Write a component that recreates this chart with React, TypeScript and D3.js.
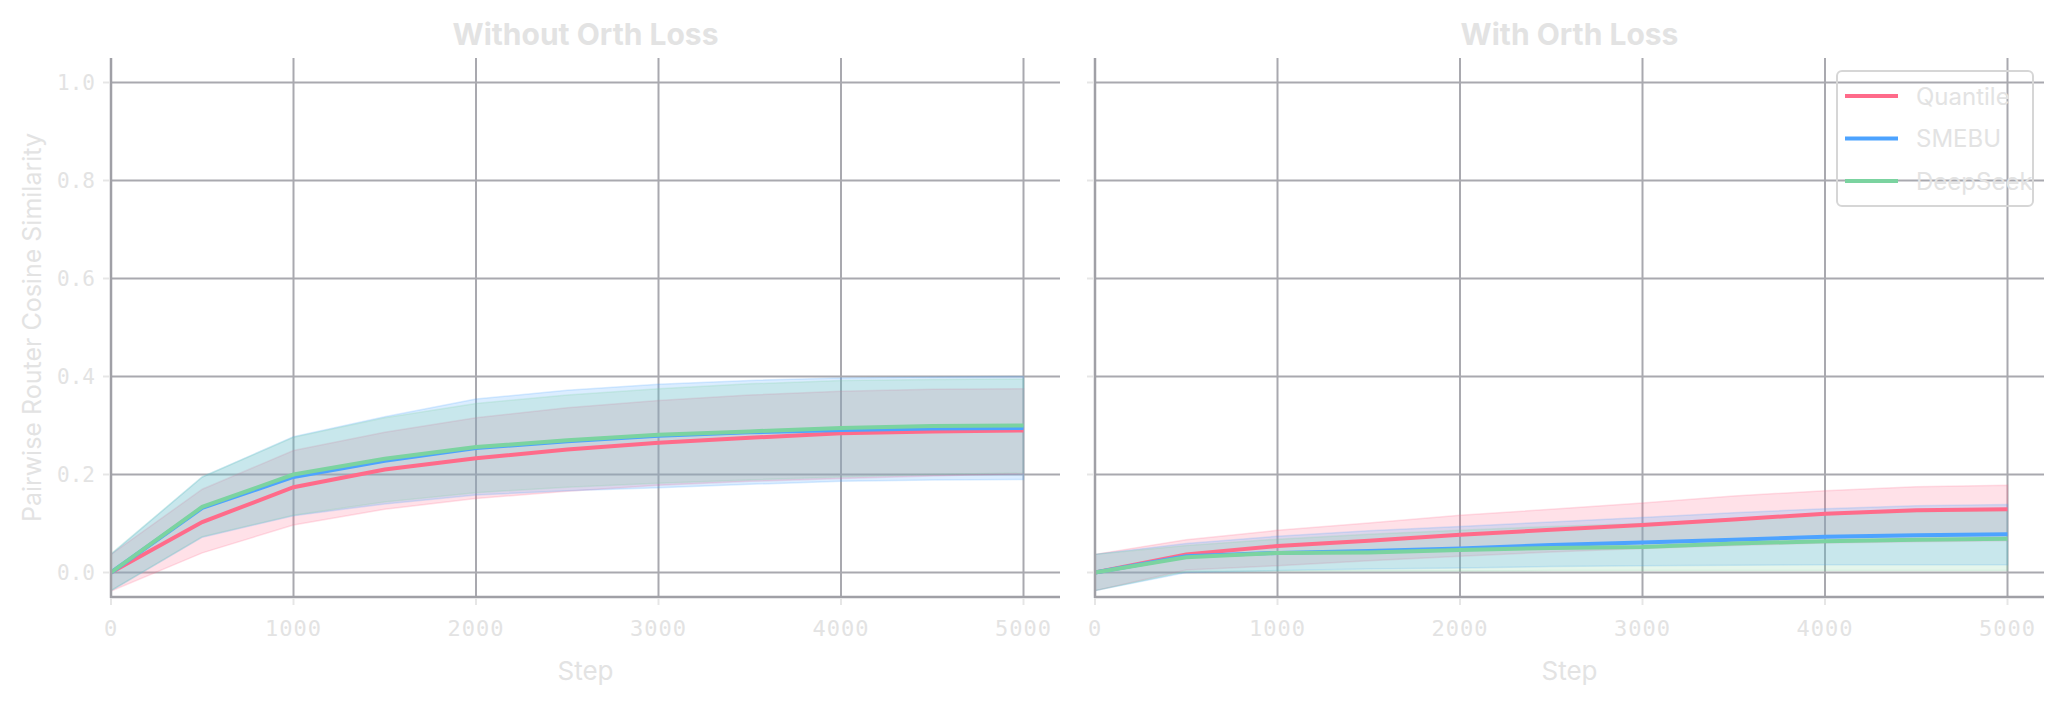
import React from 'react';
import * as d3 from 'd3';

// steps logged during training
const steps = [0, 500, 1000, 1500, 2000, 2500, 3000, 3500, 4000, 4500, 5000];

const seriesNames = ['Quantile', 'SMEBU', 'DeepSeek'];
const seriesColors = ['#ff6b8a', '#4da3ff', '#7bd3a0'];
const panelTitles = ['Without Orth Loss', 'With Orth Loss'];
const xTicks = [0, 1000, 2000, 3000, 4000, 5000];
const yTicks = [0, 0.2, 0.4, 0.6, 0.8, 1.0];

// Without Orth Loss
const quantileMeanA = [0, 0.103, 0.174, 0.21, 0.233, 0.251, 0.265, 0.275, 0.284, 0.288, 0.29];
const quantileUpA = [0.037, 0.17, 0.249, 0.286, 0.316, 0.336, 0.351, 0.362, 0.37, 0.374, 0.375];
const quantileLoA = [-0.038, 0.04, 0.097, 0.129, 0.151, 0.166, 0.178, 0.186, 0.192, 0.197, 0.202];
const smebuMeanA = [0, 0.132, 0.195, 0.228, 0.254, 0.268, 0.279, 0.286, 0.291, 0.294, 0.295];
const smebuUpA = [0.037, 0.195, 0.277, 0.318, 0.354, 0.372, 0.384, 0.392, 0.397, 0.399, 0.4];
const smebuLoA = [-0.037, 0.072, 0.116, 0.14, 0.158, 0.167, 0.173, 0.18, 0.186, 0.189, 0.19];
const deepseekMeanA = [0, 0.134, 0.2, 0.232, 0.256, 0.27, 0.281, 0.288, 0.295, 0.299, 0.3];
const deepseekUpA = [0.038, 0.195, 0.276, 0.316, 0.345, 0.362, 0.375, 0.385, 0.392, 0.394, 0.395];
const deepseekLoA = [-0.037, 0.073, 0.117, 0.144, 0.163, 0.174, 0.182, 0.189, 0.195, 0.2, 0.203];

// With Orth Loss
const quantileMeanB = [0, 0.037, 0.054, 0.065, 0.077, 0.087, 0.097, 0.108, 0.12, 0.127, 0.129];
const quantileUpB = [0.037, 0.067, 0.086, 0.101, 0.117, 0.129, 0.142, 0.156, 0.167, 0.175, 0.178];
const quantileLoB = [-0.037, 0.005, 0.014, 0.024, 0.033, 0.042, 0.049, 0.055, 0.06, 0.063, 0.065];
const smebuMeanB = [0, 0.033, 0.04, 0.044, 0.049, 0.056, 0.061, 0.067, 0.073, 0.076, 0.078];
const smebuUpB = [0.037, 0.059, 0.074, 0.085, 0.094, 0.103, 0.112, 0.122, 0.13, 0.136, 0.139];
const smebuLoB = [-0.037, 0, 0.004, 0.007, 0.009, 0.012, 0.014, 0.015, 0.016, 0.016, 0.016];
const deepseekMeanB = [0, 0.031, 0.04, 0.041, 0.046, 0.05, 0.052, 0.059, 0.064, 0.067, 0.069];
const deepseekUpB = [0.037, 0.055, 0.068, 0.078, 0.086, 0.094, 0.1, 0.11, 0.118, 0.124, 0.127];
const deepseekLoB = [-0.037, 0.002, 0.003, 0.003, 0.003, 0.004, 0.004, 0.004, 0.004, 0.004, 0.004];

const panels = [
  {
    title: panelTitles[0],
    mean: [quantileMeanA, smebuMeanA, deepseekMeanA],
    up: [quantileUpA, smebuUpA, deepseekUpA],
    lo: [quantileLoA, smebuLoA, deepseekLoA],
  },
  {
    title: panelTitles[1],
    mean: [quantileMeanB, smebuMeanB, deepseekMeanB],
    up: [quantileUpB, smebuUpB, deepseekUpB],
    lo: [quantileLoB, smebuLoB, deepseekLoB],
  },
];

const W = 2061;
const H = 704;
const panelLeft = [111, 1095];
const panelWidth = 949;
const top = 58;
const bottom = 597;

const gridColor = '#a9a9af';
const textColor = '#e3e3e3';
const sansFont = 'Inter, "Noto Sans", sans-serif';
const monoFont = '"DejaVu Sans Mono", monospace';

function Panel({ idx }: { idx: number }) {
  const p = panels[idx];
  const x0 = panelLeft[idx];
  const x = d3.scaleLinear().domain([0, 5200]).range([x0, x0 + panelWidth]);
  const y = d3.scaleLinear().domain([-0.05, 1.05]).range([bottom, top]);

  const area = (up: number[], lo: number[]) =>
    d3.area<number>()
      .x((_, i) => x(steps[i]))
      .y0((_, i) => y(lo[i]))
      .y1((_, i) => y(up[i]))(steps as any) || '';

  const line = (vals: number[]) =>
    d3.line<number>()
      .x((_, i) => x(steps[i]))
      .y(d => y(d))(vals) || '';

  return (
    <g>
      {/* grid */}
      {xTicks.map(t => (
        <line key={'vx' + t} x1={x(t)} x2={x(t)} y1={top} y2={bottom} stroke={gridColor} strokeWidth={2} />
      ))}
      {yTicks.map(t => (
        <line key={'hy' + t} x1={x0} x2={x0 + panelWidth} y1={y(t)} y2={y(t)} stroke={gridColor} strokeWidth={2} />
      ))}

      {/* bands */}
      {seriesNames.map((n, s) => (
        <path key={'band' + n} d={area(p.up[s], p.lo[s])} fill={seriesColors[s]} fillOpacity={0.2}
          stroke={seriesColors[s]} strokeOpacity={0.2} strokeWidth={1.5} />
      ))}

      {/* lines */}
      {seriesNames.map((n, s) => (
        <path key={'line' + n} d={line(p.mean[s])} fill="none" stroke={seriesColors[s]} strokeWidth={4} />
      ))}

      {/* spines */}
      <line x1={x0} x2={x0} y1={top} y2={bottom + 1} stroke="#a0a0a6" strokeWidth={2.5} />
      <line x1={x0} x2={x0 + panelWidth} y1={bottom} y2={bottom} stroke="#a0a0a6" strokeWidth={2.5} />

      {/* ticks */}
      {yTicks.map(t => (
        <g key={'yt' + t}>
          <line x1={x0 - 8} x2={x0 - 1} y1={y(t)} y2={y(t)} stroke="#e6e6e6" strokeWidth={2} />
          {idx === 0 && (
            <text x={x0 - 16} y={y(t)} dy="0.36em" textAnchor="end" fill={textColor}
              style={{ fontFamily: monoFont, fontSize: 21 }}>{t.toFixed(1)}</text>
          )}
        </g>
      ))}
      {xTicks.map(t => (
        <g key={'xt' + t}>
          <line x1={x(t)} x2={x(t)} y1={bottom + 1} y2={bottom + 8} stroke="#e6e6e6" strokeWidth={2} />
          <text x={x(t)} y={636} textAnchor="middle" fill={textColor}
            style={{ fontFamily: monoFont, fontSize: 22, letterSpacing: 1 }}>{t}</text>
        </g>
      ))}

      {/* labels */}
      <text x={x0 + panelWidth / 2} y={45} textAnchor="middle" fill={textColor}
        style={{ fontFamily: sansFont, fontSize: 30, fontWeight: 700 }}>{p.title}</text>
      <text x={x0 + panelWidth / 2} y={680} textAnchor="middle" fill={textColor}
        style={{ fontFamily: sansFont, fontSize: 26 }}>Step</text>
      {idx === 0 && (
        <text transform={`translate(41,${(top + bottom) / 2}) rotate(-90)`} textAnchor="middle" fill={textColor}
          style={{ fontFamily: sansFont, fontSize: 25 }}>Pairwise Router Cosine Similarity</text>
      )}
    </g>
  );
}

function Legend() {
  const lx = 1837;
  const ly = 71;
  return (
    <g>
      <rect x={lx} y={ly} width={196} height={135} rx={5} fill="none" stroke="#d6d6d6" strokeWidth={2} />
      {seriesNames.map((n, i) => (
        <g key={n}>
          <line x1={lx + 8} x2={lx + 61} y1={ly + 25 + i * 42.5} y2={ly + 25 + i * 42.5}
            stroke={seriesColors[i]} strokeWidth={4} />
          <text x={lx + 79} y={ly + 25 + i * 42.5} dy="0.36em" fill={textColor}
            style={{ fontFamily: sansFont, fontSize: 24 }}>{n}</text>
        </g>
      ))}
    </g>
  );
}

export default function App() {
  return (
    <svg width={W} height={H} style={{ position: 'absolute', left: 0, top: 0, background: '#ffffff' }}>
      <Panel idx={0} />
      <Panel idx={1} />
      <Legend />
    </svg>
  );
}
